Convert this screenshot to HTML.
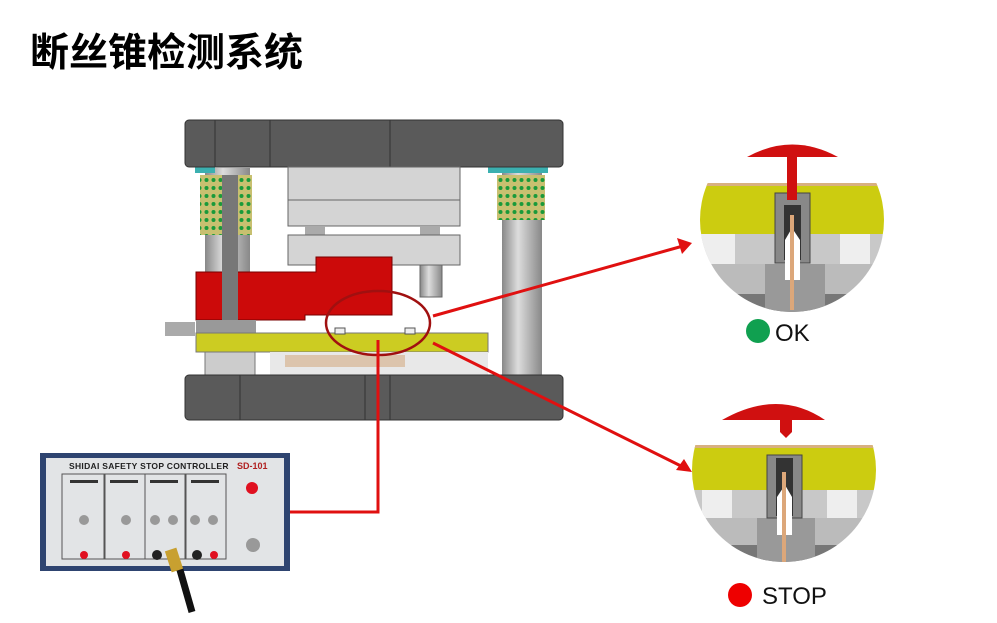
<!DOCTYPE html>
<html><head><meta charset="utf-8"><style>
body{margin:0;width:997px;height:618px;overflow:hidden;background:#fff;font-family:"Liberation Sans","Noto Sans CJK SC",sans-serif}
</style></head><body>
<svg width="997" height="618" viewBox="0 0 997 618" xmlns="http://www.w3.org/2000/svg">
<defs>
<clipPath id="c1"><circle cx="792" cy="220" r="92"/></clipPath>
<clipPath id="c2"><circle cx="784" cy="470" r="92"/></clipPath>
<linearGradient id="pil" x1="0" x2="1"><stop offset="0" stop-color="#888"/><stop offset=".4" stop-color="#ddd"/><stop offset="1" stop-color="#888"/></linearGradient>
<pattern id="sp" width="7" height="8" patternUnits="userSpaceOnUse"><rect width="7" height="8" fill="#c8c070"/><circle cx="3.5" cy="4" r="2" fill="#1a9a3a"/></pattern>
</defs>
<text x="30" y="66" font-size="39" font-weight="bold" fill="#000">断丝锥检测系统</text>

<rect x="205" y="168" width="45" height="210" fill="url(#pil)"/>
<rect x="502" y="168" width="40" height="210" fill="url(#pil)"/>
<rect x="200" y="175" width="52" height="60" fill="url(#sp)"/>
<rect x="497" y="175" width="48" height="45" fill="url(#sp)"/>
<rect x="488" y="165" width="60" height="8" fill="#3bb0b0"/>
<rect x="195" y="165" width="20" height="8" fill="#3bb0b0"/>
<rect x="185" y="120" width="378" height="47" rx="4" fill="#5a5a5a" stroke="#333"/>
<line x1="215" y1="120" x2="215" y2="167" stroke="#333"/><line x1="270" y1="120" x2="270" y2="167" stroke="#333"/><line x1="390" y1="120" x2="390" y2="167" stroke="#333"/>
<rect x="288" y="167" width="172" height="33" fill="#d4d4d4" stroke="#666"/>
<rect x="288" y="200" width="172" height="26" fill="#d4d4d4" stroke="#666"/>
<rect x="305" y="226" width="20" height="10" fill="#aaa"/><rect x="420" y="226" width="20" height="10" fill="#aaa"/>
<rect x="288" y="235" width="172" height="30" fill="#d4d4d4" stroke="#666"/>
<rect x="420" y="265" width="22" height="32" fill="url(#pil)" stroke="#666"/>
<path d="M196 272 H316 V257 H392 V315 H305 V320 H196 Z" fill="#cc0a0a" stroke="#700"/>
<rect x="222" y="175" width="16" height="195" fill="#777"/>
<rect x="196" y="320" width="60" height="14" fill="#999"/>
<rect x="196" y="333" width="292" height="19" fill="#cccc22" stroke="#777"/>
<rect x="335" y="328" width="10" height="6" fill="#eee" stroke="#555"/><rect x="405" y="328" width="10" height="6" fill="#eee" stroke="#555"/>
<rect x="205" y="352" width="50" height="26" fill="#ccc" stroke="#777"/>
<rect x="270" y="352" width="218" height="24" fill="#e8e8e8"/>
<rect x="285" y="355" width="120" height="12" fill="#d0a070" opacity=".5"/>
<rect x="165" y="322" width="30" height="14" fill="#aaa"/>
<rect x="185" y="375" width="378" height="45" rx="4" fill="#5a5a5a" stroke="#333"/>
<line x1="240" y1="375" x2="240" y2="420" stroke="#333"/><line x1="365" y1="375" x2="365" y2="420" stroke="#333"/><line x1="390" y1="375" x2="390" y2="420" stroke="#333"/>

<ellipse cx="378" cy="323" rx="52" ry="32" fill="none" stroke="#a01010" stroke-width="2.5"/>
<line x1="433" y1="316" x2="683" y2="246" stroke="#e01010" stroke-width="3"/>
<path d="M692 243 L677 238 L682 254 Z" fill="#e01010"/>
<line x1="433" y1="343" x2="683" y2="467" stroke="#e01010" stroke-width="3"/>
<path d="M692 472 L676 470 L684 459 Z" fill="#e01010"/>
<polyline points="378,340 378,512 290,512" fill="none" stroke="#e01010" stroke-width="3"/>

<g clip-path="url(#c1)">
<rect x="690" y="183" width="210" height="51" fill="#cccc10"/>
<rect x="690" y="183" width="210" height="3" fill="#d8b080"/>
<rect x="690" y="234" width="210" height="30" fill="#c8c8c8"/>
<rect x="700" y="234" width="35" height="30" fill="#eee"/><rect x="840" y="234" width="30" height="30" fill="#eee"/>
<rect x="690" y="264" width="210" height="30" fill="#bbb"/>
<rect x="690" y="294" width="210" height="40" fill="#777"/>
<rect x="765" y="264" width="60" height="70" fill="#999"/>
<rect x="775" y="193" width="35" height="70" fill="#888" stroke="#444"/>
<rect x="784" y="205" width="17" height="55" fill="#333"/>
<path d="M785 240 L792 228 L800 240 V280 H785 Z" fill="#fff"/>
<rect x="790" y="215" width="4" height="95" fill="#dca77a"/>
</g>
<path d="M747 157 Q792 132 838 157 Z" fill="#d01010"/>
<rect x="787" y="155" width="10" height="45" fill="#d01010"/>
<circle cx="758" cy="331" r="12" fill="#10a050"/>
<text x="775" y="341" font-size="24" fill="#111">OK</text>

<g clip-path="url(#c2)">
<rect x="680" y="445" width="210" height="45" fill="#cccc10"/>
<rect x="680" y="445" width="210" height="3" fill="#d8b080"/>
<rect x="680" y="490" width="210" height="28" fill="#c8c8c8"/>
<rect x="702" y="490" width="30" height="28" fill="#eee"/><rect x="827" y="490" width="30" height="28" fill="#eee"/>
<rect x="680" y="518" width="210" height="27" fill="#bbb"/>
<rect x="680" y="545" width="210" height="25" fill="#777"/>
<rect x="757" y="518" width="58" height="52" fill="#999"/>
<rect x="767" y="455" width="35" height="63" fill="#888" stroke="#444"/>
<rect x="776" y="458" width="17" height="58" fill="#333"/>
<path d="M777 497 L785 485 L792 497 V535 H777 Z" fill="#fff"/>
<rect x="782" y="472" width="4" height="92" fill="#dca77a"/>
</g>
<path d="M722 420 Q778 388 825 420 Z" fill="#d01010"/>
<rect x="780" y="418" width="12" height="14" fill="#d01010"/><path d="M780 432 L786 438 L792 432 Z" fill="#d01010"/>
<circle cx="740" cy="595" r="12" fill="#e00"/>
<text x="762" y="604" font-size="24" fill="#111">STOP</text>

<rect x="40" y="453" width="250" height="118" fill="#2e4470"/>
<rect x="46" y="458" width="238" height="108" fill="#e2e4e6"/>
<text x="69" y="469" font-size="8.5" font-weight="bold" fill="#222" letter-spacing="0.3">SHIDAI  SAFETY STOP CONTROLLER</text>
<text x="237" y="469" font-size="9" font-weight="bold" fill="#b02020">SD-101</text>
<g fill="none" stroke="#555"><rect x="62" y="474" width="42" height="85"/><rect x="105" y="474" width="40" height="85"/><rect x="145" y="474" width="40" height="85"/><rect x="186" y="474" width="40" height="85"/></g>
<g fill="#333"><rect x="70" y="480" width="28" height="3"/><rect x="110" y="480" width="28" height="3"/><rect x="150" y="480" width="28" height="3"/><rect x="191" y="480" width="28" height="3"/></g>
<g fill="#999"><circle cx="84" cy="520" r="5"/><circle cx="126" cy="520" r="5"/><circle cx="155" cy="520" r="5"/><circle cx="173" cy="520" r="5"/><circle cx="195" cy="520" r="5"/><circle cx="213" cy="520" r="5"/><circle cx="253" cy="545" r="7"/></g>
<g fill="#e01020"><circle cx="84" cy="555" r="4"/><circle cx="126" cy="555" r="4"/><circle cx="214" cy="555" r="4"/><circle cx="252" cy="488" r="6"/></g>
<g fill="#222"><circle cx="157" cy="555" r="5"/><circle cx="197" cy="555" r="5"/></g>
<path d="M172 555 L180 570 L192 612" stroke="#111" stroke-width="7" fill="none"/>
<rect x="168" y="549" width="12" height="22" fill="#c8a030" transform="rotate(-18 174 560)"/>
</svg>
</body></html>
